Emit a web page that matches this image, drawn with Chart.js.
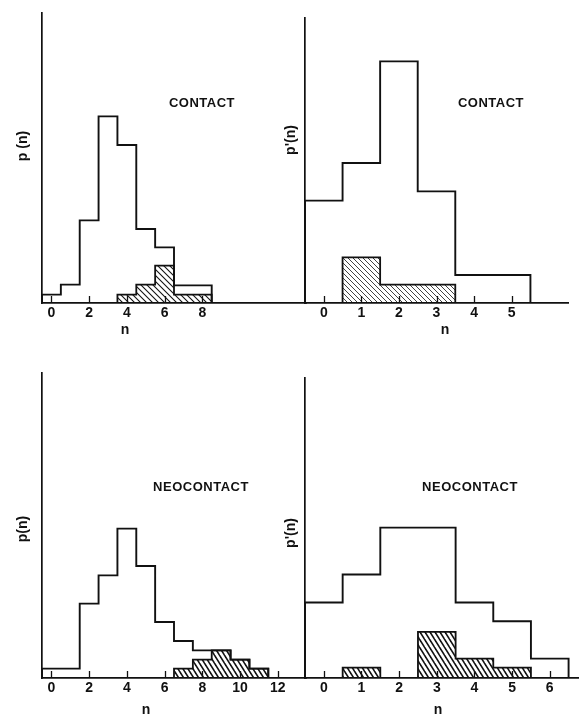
<!DOCTYPE html>
<html><head><meta charset="utf-8">
<script src="https://cdn.jsdelivr.net/npm/chart.js@4.4.1/dist/chart.umd.min.js"></script>
<style>
html,body{margin:0;padding:0;background:#fff;width:579px;height:719px;overflow:hidden}
canvas{position:absolute;left:0;top:0}
</style></head>
<body>
<canvas id="c1" width="579" height="719"></canvas>
<canvas id="c2" width="579" height="719"></canvas>
<canvas id="c3" width="579" height="719"></canvas>
<canvas id="c4" width="579" height="719"></canvas>
<script>
// ---------- DATA (arbitrary probability units) ----------
// CONTACT, p(n)
const contactN      = [0, 1, 2, 3, 4, 5, 6, 7, 8];
const contactP      = [2.5, 5.5, 24.8, 56.0, 47.4, 22.2, 16.7, 5.3, 5.3];
const contactHatchN = [4, 5, 6, 7, 8];
const contactHatchP = [2.5, 5.5, 11.2, 2.5, 2.5];
const contactTicks  = [0, 2, 4, 6, 8];

// CONTACT, p'(n)
const contactPrimeN      = [0, 1, 2, 3, 4, 5];
const contactPrimeP      = [30.7, 42.0, 72.5, 33.5, 8.4, 8.4];
const contactPrimeHatchN = [1, 2, 3];
const contactPrimeHatchP = [13.7, 5.5, 5.5];
const contactPrimeTicks  = [0, 1, 2, 3, 4, 5];

// NEOCONTACT, p(n)
const neoN      = [0, 1, 2, 3, 4, 5, 6, 7, 8, 9, 10, 11];
const neoP      = [2.8, 2.8, 22.3, 30.8, 44.8, 33.6, 16.8, 11.1, 8.3, 8.3, 5.5, 2.8];
const neoHatchN = [7, 8, 9, 10, 11];
const neoHatchP = [2.8, 5.5, 8.3, 5.5, 2.8];
const neoTicks  = [0, 2, 4, 6, 8, 10, 12];

// NEOCONTACT, p'(n)
const neoPrimeN      = [0, 1, 2, 3, 4, 5, 6];
const neoPrimeP      = [22.6, 31.0, 45.0, 45.0, 22.6, 17.0, 5.8];
const neoPrimeHatchN = [1, 3, 4, 5];
const neoPrimeHatchP = [3.1, 13.8, 5.8, 3.1];
const neoPrimeTicks  = [0, 1, 2, 3, 4, 5, 6];

// ---------- helpers ----------
function stepPoints(ns, ps) {
  const pts = [];
  for (let i = 0; i < ns.length; i++) {
    const startRun = i === 0 || ns[i] !== ns[i - 1] + 1;
    const endRun = i === ns.length - 1 || ns[i + 1] !== ns[i] + 1;
    if (startRun) pts.push({x: ns[i] - 0.5, y: 0});
    pts.push({x: ns[i] - 0.5, y: ps[i]});
    if (endRun) { pts.push({x: ns[i] + 0.5, y: ps[i]}); pts.push({x: ns[i] + 0.5, y: 0}); }
  }
  return pts;
}

// diagonal "\" hatch tile: w = horizontal spacing, h = tile height (controls slope)
function makeHatch(w, h, lw) {
  const c = document.createElement('canvas');
  c.width = w; c.height = h;
  const g = c.getContext('2d');
  g.strokeStyle = '#111'; g.lineWidth = lw; g.lineCap = 'butt';
  for (let k = -1; k <= 1; k++) {
    g.beginPath(); g.moveTo(k * w - w * 0.5, -h * 0.5); g.lineTo(k * w + w * 1.5, h * 1.5); g.stroke();
  }
  return document.getElementById('c1').getContext('2d').createPattern(c, 'repeat');
}

const FONT = '"Liberation Sans", Arial, sans-serif';
const INK = '#111';
const XSCALE_H = 24;

const decor = {
  id: 'decor',
  afterDraw(chart, args, opts) {
    const ctx = chart.ctx, xs = chart.scales.x, ys = chart.scales.y;
    ctx.save();
    ctx.strokeStyle = INK; ctx.lineWidth = 1.3;
    const y0 = ys.getPixelForValue(0);
    for (const t of opts.tickValues) {
      const px = Math.round(xs.getPixelForValue(t)) + 0.5;
      ctx.beginPath(); ctx.moveTo(px, y0); ctx.lineTo(px, y0 - 7); ctx.stroke();
    }
    ctx.fillStyle = INK;
    ctx.textAlign = 'center'; ctx.textBaseline = 'middle';
    for (const t of opts.texts) {
      ctx.save();
      ctx.font = (t.weight || 'bold') + ' ' + t.size + 'px ' + FONT;
      ctx.letterSpacing = (t.spacing || 0) + 'px';
      ctx.translate(t.x, t.y);
      if (t.rot) ctx.rotate(t.rot);
      ctx.fillText(t.text, 0, 0);
      ctx.restore();
    }
    ctx.restore();
  }
};

function makeChart(id, p) {
  const W = 579, H = 719;
  new Chart(document.getElementById(id), {
    type: 'line',
    data: {
      datasets: [
        {
          data: stepPoints(p.hatchN, p.hatchP),
          stepped: true, borderColor: INK, borderWidth: 1.8,
          backgroundColor: p.pattern, fill: 'origin',
          pointRadius: 0, tension: 0
        },
        {
          data: stepPoints(p.openN, p.openP),
          stepped: true, borderColor: INK, borderWidth: 1.9,
          fill: false, pointRadius: 0, tension: 0
        }
      ]
    },
    options: {
      responsive: false, animation: false, events: [],
      layout: { padding: { left: p.area.left, top: p.area.top, right: W - p.area.right, bottom: H - p.area.bottom - XSCALE_H } },
      plugins: { legend: { display: false }, tooltip: { enabled: false }, title: { display: false },
                 decor: { tickValues: p.ticks, texts: p.texts } },
      scales: {
        x: {
          type: 'linear', min: p.xmin, max: p.xmax, offset: false,
          afterBuildTicks: (s) => { s.ticks = p.ticks.map(v => ({ value: v })); },
          afterFit: (s) => { s.height = XSCALE_H; },
          grid: { display: true, drawOnChartArea: false, drawTicks: false },
          border: { display: true, color: INK, width: 1.7 },
          ticks: { display: true, autoSkip: false, maxRotation: 0, minRotation: 0, padding: 2, color: INK,
                   font: { family: FONT, size: 14, weight: 'bold' },
                   callback: (v) => String(v) }
        },
        y: {
          min: 0, max: p.ymax,
          afterFit: (s) => { s.width = 0; },
          grid: { display: true, drawOnChartArea: false, drawTicks: false },
          border: { display: true, color: INK, width: 1.7 },
          ticks: { display: false }
        }
      }
    },
    plugins: [decor]
  });
}

const ROT = -Math.PI / 2;

makeChart('c1', {
  area: { left: 42, top: 13, right: 306, bottom: 303 }, xmin: -0.5, xmax: 13.5, ymax: 87,
  openN: contactN, openP: contactP, hatchN: contactHatchN, hatchP: contactHatchP,
  ticks: contactTicks, pattern: makeHatch(6, 6, 1.1),
  texts: [
    { text: 'CONTACT', x: 202, y: 103, size: 13, spacing: 0.5 },
    { text: 'p (n)', x: 23, y: 146, size: 14, rot: ROT },
    { text: 'n', x: 125, y: 330, size: 14 }
  ]
});

makeChart('c2', {
  area: { left: 305, top: 18, right: 568, bottom: 303 }, xmin: -0.5, xmax: 6.5, ymax: 85.5,
  openN: contactPrimeN, openP: contactPrimeP, hatchN: contactPrimeHatchN, hatchP: contactPrimeHatchP,
  ticks: contactPrimeTicks, pattern: makeHatch(5, 5, 0.8),
  texts: [
    { text: 'CONTACT', x: 491, y: 103, size: 13, spacing: 0.5 },
    { text: "p'(n)", x: 291, y: 140, size: 14, rot: ROT },
    { text: 'n', x: 445, y: 330, size: 14 }
  ]
});

makeChart('c3', {
  area: { left: 42, top: 373, right: 306, bottom: 678 }, xmin: -0.5, xmax: 13.5, ymax: 91.5,
  openN: neoN, openP: neoP, hatchN: neoHatchN, hatchP: neoHatchP,
  ticks: neoTicks, pattern: makeHatch(5, 8, 1.6),
  texts: [
    { text: 'NEOCONTACT', x: 201, y: 487, size: 13, spacing: 0.5 },
    { text: 'p(n)', x: 23, y: 529, size: 14, rot: ROT },
    { text: 'n', x: 146, y: 710, size: 14 }
  ]
});

makeChart('c4', {
  area: { left: 305, top: 378, right: 578, bottom: 678 }, xmin: -0.5, xmax: 6.75, ymax: 89.8,
  openN: neoPrimeN, openP: neoPrimeP, hatchN: neoPrimeHatchN, hatchP: neoPrimeHatchP,
  ticks: neoPrimeTicks, pattern: makeHatch(5, 8, 1.6),
  texts: [
    { text: 'NEOCONTACT', x: 470, y: 487, size: 13, spacing: 0.5 },
    { text: "p'(n)", x: 291, y: 533, size: 14, rot: ROT },
    { text: 'n', x: 438, y: 710, size: 14 }
  ]
});
</script>
</body></html>
